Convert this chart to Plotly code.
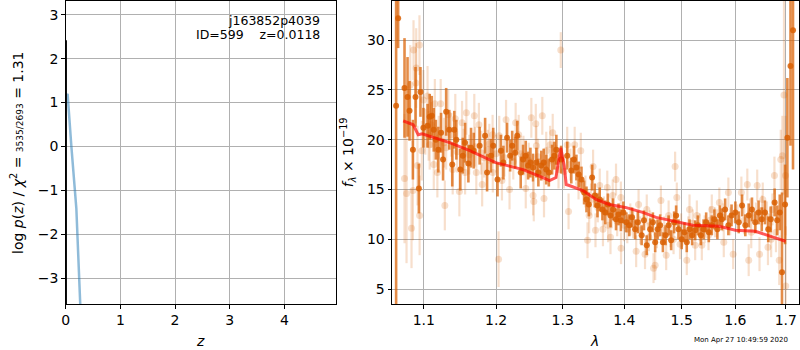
import plotly.graph_objects as go
import math

# ---------------- data ----------------
# left panel: log p(z) curves
pz_z = [0.0118, 0.0118]
pz_logp = [-3.7, 2.42]
chi_z = [0.02, 0.035, 0.104, 0.195, 0.270]
chi_logp = [1.15, 1.2, 0.0, -1.41, -3.7]

z_ticks = [0, 1, 2, 3, 4]
logp_ticks = [-3, -2, -1, 0, 1, 2, 3]

# right panel: spectrum (dark = binned, light = individual)
dark_wave = [1.0640, 1.0666, 1.0748, 1.0787, 1.0813, 1.0857, 1.0891, 1.0935, 1.0956, 1.0995,
             1.1050, 1.1078, 1.1106, 1.1133, 1.1161, 1.1194, 1.1231, 1.1258, 1.1300, 1.1342,
             1.1383, 1.1411, 1.1439, 1.1494, 1.1528, 1.1560, 1.1606, 1.1643, 1.1681, 1.1764,
             1.1842, 1.1870, 1.1925, 1.1958,
             1.2020, 1.2069, 1.2105, 1.2159, 1.2204, 1.2234, 1.2279, 1.2309, 1.2360, 1.2395,
             1.2435, 1.2470, 1.2505, 1.2545, 1.2595, 1.2625, 1.2670, 1.2706, 1.2745, 1.2785,
             1.2835, 1.2871, 1.2901, 1.2976,
             1.3071, 1.3135, 1.3177, 1.3216, 1.3253, 1.3297, 1.3339, 1.3377, 1.3415, 1.3468,
             1.3511, 1.3555, 1.3592, 1.3636, 1.3684, 1.3726, 1.3769, 1.3813, 1.3861, 1.3903,
             1.3942, 1.3984,
             1.4035, 1.4083, 1.4131, 1.4183, 1.4229, 1.4295, 1.4335, 1.4383, 1.4441, 1.4489,
             1.4529, 1.4572, 1.4617, 1.4665, 1.4713, 1.4766, 1.4811, 1.4864, 1.4900, 1.4942,
             1.5000, 1.5050, 1.5092, 1.5142, 1.5190, 1.5245, 1.5295, 1.5350, 1.5400, 1.5448,
             1.5497, 1.5553, 1.5602, 1.5658, 1.5706, 1.5742, 1.5805, 1.5866, 1.5927, 1.6000,
             1.6066, 1.6130, 1.6193, 1.6259, 1.6323, 1.6387, 1.6453, 1.6516, 1.6580, 1.6646,
             1.6696, 1.6774, 1.6826, 1.6878, 1.6923, 1.6986, 1.7033, 1.7097, 1.7149]
dark_flux = [23.4, 32.2, 25.2, 24.3, 22.9, 19.0, 24.3, 15.1, 24.8, 21.2,
             21.4, 22.3, 22.4, 21.0, 20.0, 19.0, 20.7, 18.0, 22.8, 21.0,
             17.5, 21.0, 20.0, 17.0, 18.4, 19.7, 17.6, 19.2, 18.9, 19.4,
             20.4, 16.7, 18.4, 19.4,
             16.0, 18.9, 17.7, 20.2, 18.4, 19.4, 18.7, 20.4, 16.7, 18.0,
             18.4, 17.4, 17.7, 17.2, 17.7, 16.7, 17.4, 17.7, 17.0, 16.7,
             18.0, 18.4, 19.0, 18.0,
             18.4, 16.9, 18.0, 17.2, 16.5, 16.0, 14.7, 14.0, 13.5, 16.2,
             14.4, 13.4, 14.0, 13.0, 12.7, 13.5, 12.4, 13.0, 12.0, 12.5,
             11.9, 12.7,
             11.7, 11.4, 12.2, 11.0, 11.7, 10.4, 11.9, 9.4, 11.0, 11.7,
             9.7, 11.0, 11.4, 9.7, 10.4, 11.4, 9.9, 11.7, 12.4, 11.0,
             10.0, 10.7, 9.7, 11.0, 10.4, 10.9, 11.4, 10.4, 11.0, 11.7,
             10.7, 11.4, 12.0, 11.0, 12.4, 12.0, 13.0, 11.4, 12.4, 12.7,
             11.7, 13.4, 11.4, 12.4, 13.0, 11.7, 12.7, 12.0, 12.7, 11.0,
             12.0, 13.7, 11.9, 12.7, 6.7, 13.5, 20.2, 27.4, 31.0]
dark_err = [25, 3, 5, 4, 3, 3, 3, 2.5, 2.5, 2,
            2.2, 2.3, 2.0, 2.2, 2.0, 2.3, 2.0, 2.1, 2.4, 2.0,
            2.2, 1.9, 2.0, 2.1, 1.8, 2.0, 1.9, 2.0, 1.8, 1.9,
            1.8, 1.9, 1.7, 1.8,
            1.7, 1.6, 1.7, 1.5, 1.6, 1.5, 1.6, 1.5, 1.6, 1.5,
            1.5, 1.4, 1.5, 1.4, 1.5, 1.4, 1.5, 1.4, 1.5, 1.4,
            1.5, 1.4, 1.5, 1.4,
            1.4, 1.3, 1.4, 1.3, 1.3, 1.3, 1.2, 1.3, 1.2, 1.3,
            1.2, 1.2, 1.2, 1.1, 1.2, 1.1, 1.2, 1.1, 1.1, 1.1,
            1.1, 1.1,
            1.0, 1.1, 1.0, 1.0, 1.1, 1.0, 1.0, 1.0, 1.1, 1.0,
            1.0, 1.0, 1.1, 1.0, 1.0, 1.0, 1.0, 1.1, 1.0, 1.0,
            1.0, 1.0, 1.0, 1.0, 1.0, 1.0, 1.0, 1.0, 1.0, 1.0,
            1.0, 1.0, 1.0, 1.0, 1.0, 1.1, 1.1, 1.0, 1.1, 1.1,
            1.1, 1.1, 1.1, 1.2, 1.2, 1.1, 1.2, 1.2, 1.2, 1.3,
            1.3, 1.4, 1.5, 1.8, 8.0, 4.0, 6.0, 8.0, 14.0]

light_wave = [1.0748, 1.0774, 1.0822, 1.0839, 1.0857, 1.0865, 1.0896, 1.0900, 1.0917, 1.0943, 1.0945, 1.0974,
              1.0995, 1.1050, 1.1064, 1.1078, 1.1133, 1.1147, 1.1181, 1.1226, 1.1272, 1.1282,
              1.1328, 1.1389, 1.1425, 1.1481, 1.1518, 1.1560, 1.1578, 1.1689, 1.1717, 1.1754,
              1.1786, 1.1800, 1.1903, 1.1949, 1.1952,
              1.2035, 1.2045, 1.2084, 1.2144, 1.2195, 1.2285, 1.2330, 1.2400, 1.2435, 1.2519,
              1.2545, 1.2556, 1.2586, 1.2595, 1.2685, 1.2711, 1.2745, 1.2805, 1.2845, 1.2935,
              1.2970,
              1.3071, 1.3092, 1.3189, 1.3286, 1.3394, 1.3420, 1.3484, 1.3523, 1.3592, 1.3645,
              1.3716, 1.3730, 1.3769, 1.3806, 1.3861, 1.3942, 1.3945, 1.3995,
              1.4101, 1.4201, 1.4242, 1.4353, 1.4383, 1.4441, 1.4501, 1.4529, 1.4630, 1.4723,
              1.4766, 1.4854, 1.4882, 1.4912, 1.4970,
              1.5092, 1.5142, 1.5245, 1.5276, 1.5368, 1.5492, 1.5553, 1.5614, 1.5695, 1.5779,
              1.5866, 1.5958,
              1.6116, 1.6232, 1.6259, 1.6309, 1.6426, 1.6472, 1.6536, 1.6640, 1.6704, 1.6770,
              1.6801, 1.6867, 1.6898, 1.6931, 1.6964, 1.6995, 1.7000]
light_flux = [16.1, 14.6, 25.5, 11.1, 14.9, 29.0, 25.7, 27.2, 17.4, 29.5, 12.4, 18.9,
              24.0, 24.4, 20.4, 19.5, 17.5, 23.6, 16.7, 23.6, 19.7, 13.4,
              22.5, 17.0, 22.1, 14.8, 21.7, 16.7, 22.7, 22.4, 16.7, 21.5,
              18.7, 15.5, 19.6, 20.5, 16.7,
              8.0, 20.4, 15.9, 22.0, 15.0, 21.7, 20.5, 18.4, 15.1, 22.2,
              14.4, 13.8, 21.6, 19.4, 22.4, 14.1, 18.9, 19.5, 20.7, 17.0,
              29.0,
              19.5, 12.8, 19.5, 18.9, 9.9, 12.4, 17.3, 10.9, 15.4, 11.0,
              15.2, 11.4, 10.2, 14.4, 16.0, 14.2, 9.1, 11.4,
              12.0, 8.8, 13.5, 8.5, 13.0, 11.4, 7.1, 7.4, 13.9, 8.4,
              12.4, 10.0, 17.3, 14.2, 9.5,
              7.9, 13.0, 9.4, 12.4, 9.4, 10.4, 13.0, 11.7, 13.7, 9.7,
              14.7, 8.5,
              14.7, 15.5, 7.9, 10.7, 15.4, 8.5, 14.0, 9.2, 10.0, 16.4,
              10.7, 7.9, 18.0, 18.4, 24.5, 16.4, 5.3]
light_err = [6.5, 7.0, 4.0, 4.0, 5.0, 3.0, 4.0, 4.0, 4.0, 3.0, 4.0, 3.0,
             3.0, 3.0, 2.5, 2.5, 2.5, 2.5, 2.5, 2.5, 2.5, 2.5,
             2.5, 2.5, 2.5, 2.5, 2.2, 2.2, 2.2, 2.2, 2.2, 2.2,
             2.2, 2.2, 2.0, 2.0, 2.0,
             2.8, 2.0, 2.0, 2.0, 2.0, 2.0, 2.0, 2.0, 2.0, 2.0,
             2.0, 2.0, 2.0, 2.0, 1.9, 1.9, 1.9, 1.9, 1.9, 1.9,
             1.8,
             1.8, 1.8, 1.8, 1.8, 1.8, 1.8, 1.7, 1.7, 1.7, 1.7,
             1.7, 1.7, 1.7, 1.6, 1.6, 1.6, 1.6, 1.6,
             1.6, 1.6, 1.5, 1.5, 1.5, 1.5, 1.5, 1.5, 1.5, 1.5,
             1.5, 1.5, 1.5, 1.5, 1.5,
             1.5, 1.5, 1.5, 1.5, 1.5, 1.5, 1.5, 1.5, 1.5, 1.5,
             1.5, 1.5,
             1.6, 1.6, 1.6, 1.6, 1.6, 1.7, 1.7, 1.8, 1.8, 1.9,
             2.0, 2.5, 3.0, 4.0, 10.0, 6.0, 6.0]

# dense light points hugging the trend
light_wave_b = [1.1020, 1.1100, 1.1200, 1.1300, 1.1370, 1.1450, 1.1540, 1.1620, 1.1700, 1.1830,
                1.1880, 1.2000, 1.2120, 1.2250, 1.2360, 1.2480, 1.2620, 1.2760, 1.2900, 1.3020,
                1.3120, 1.3250, 1.3360, 1.3450, 1.3560, 1.3660, 1.3790, 1.3880, 1.4050, 1.4150,
                1.4270, 1.4420, 1.4560, 1.4690, 1.4800, 1.4990, 1.5120, 1.5200, 1.5330, 1.5420,
                1.5520, 1.5650, 1.5760, 1.5900, 1.6040, 1.6170, 1.6290, 1.6400, 1.6520, 1.6620,
                1.6730]
light_flux_b = [20.8, 21.5, 20.2, 19.2, 20.5, 18.8, 19.0, 18.5, 19.3, 18.2,
                19.0, 18.6, 18.2, 17.8, 18.6, 17.9, 18.3, 17.6, 17.8, 16.8,
                17.5, 15.6, 14.8, 14.0, 13.2, 12.8, 12.6, 11.8, 11.0, 11.5,
                10.9, 10.2, 10.5, 10.9, 10.6, 11.2, 10.9, 11.6, 11.2, 11.0,
                11.9, 11.6, 12.2, 11.8, 12.1, 11.9, 12.6, 12.2, 12.9, 12.3,
                13.0]
light_err_b = [2.3, 2.3, 2.2, 2.2, 2.2, 2.1, 2.1, 2.0, 2.0, 2.0,
               2.0, 1.9, 1.9, 1.8, 1.8, 1.8, 1.8, 1.7, 1.7, 1.7,
               1.6, 1.6, 1.6, 1.6, 1.5, 1.5, 1.5, 1.5, 1.4, 1.4,
               1.4, 1.4, 1.4, 1.4, 1.4, 1.4, 1.4, 1.4, 1.4, 1.4,
               1.4, 1.4, 1.4, 1.4, 1.4, 1.4, 1.5, 1.5, 1.5, 1.5,
               1.6]

model_wave = [1.0731, 1.0861, 1.0926, 1.0978, 1.1347, 1.1625, 1.1994, 1.2395, 1.2695, 1.2795,
              1.2895, 1.2970, 1.3023, 1.3055, 1.3103, 1.3318, 1.3532, 1.3748, 1.4018, 1.4312,
              1.4547, 1.4899, 1.5203, 1.5694, 1.6000, 1.6387, 1.6646, 1.6996]
model_flux = [21.9, 21.5, 20.5, 20.6, 19.7, 18.9, 17.7, 17.0, 16.2, 15.9,
              16.2, 19.2, 17.4, 15.5, 15.4, 14.9, 14.0, 13.5, 13.2, 12.7,
              12.2, 11.8, 11.4, 11.3, 10.9, 10.8, 10.4, 9.8]

wave_ticks = [1.1, 1.2, 1.3, 1.4, 1.5, 1.6, 1.7]
flux_ticks = [5, 10, 15, 20, 25, 30]

# ---------------- figure ----------------
FONT = "DejaVu Sans"
ORANGE_DARK = "rgba(217,95,2,0.85)"
ORANGE_DARK_BAR = "rgba(217,95,2,0.72)"
ORANGE_LIGHT = "rgba(217,95,2,0.2)"

fig = go.Figure()

fig.add_trace(go.Scatter(x=chi_z, y=chi_logp, mode="lines",
                         line=dict(color="rgba(31,119,180,0.5)", width=2.5),
                         xaxis="x", yaxis="y", showlegend=False))
fig.add_trace(go.Scatter(x=pz_z, y=pz_logp, mode="lines",
                         line=dict(color="black", width=1.2),
                         xaxis="x", yaxis="y", showlegend=False))

fig.add_trace(go.Scatter(x=light_wave + light_wave_b, y=light_flux + light_flux_b,
                         mode="markers",
                         marker=dict(color=ORANGE_LIGHT, size=7, line=dict(width=0)),
                         error_y=dict(type="data", array=light_err + light_err_b,
                                      color=ORANGE_LIGHT, thickness=2.2, width=0),
                         xaxis="x2", yaxis="y2", showlegend=False))
fig.add_trace(go.Scatter(x=dark_wave, y=dark_flux, mode="markers",
                         marker=dict(color=ORANGE_DARK, size=6, line=dict(width=0)),
                         error_y=dict(type="data", array=dark_err,
                                      color=ORANGE_DARK_BAR, thickness=2.6, width=0),
                         xaxis="x2", yaxis="y2", showlegend=False))
fig.add_trace(go.Scatter(x=model_wave, y=model_flux, mode="lines",
                         line=dict(color="rgba(255,0,0,0.65)", width=3),
                         xaxis="x2", yaxis="y2", showlegend=False))

ax_common = dict(showline=True, linecolor="black", linewidth=1, mirror=True,
                 ticks="outside", ticklen=3.5, tickcolor="black", tickwidth=1,
                 showgrid=True, gridcolor="#b0b0b0", gridwidth=1, zeroline=False,
                 tickfont=dict(family=FONT, size=14, color="black"))

ydom = [1 - 304 / 350, 1 - 1 / 350]
fig.update_layout(
    width=800, height=350, autosize=False,
    margin=dict(l=0, r=0, t=0, b=0),
    paper_bgcolor="white", plot_bgcolor="white",
    font=dict(family=FONT, size=14, color="black"),
    xaxis=dict(domain=[62 / 800, 334 / 800], range=[0, 4.95], tickvals=z_ticks,
               anchor="y", **ax_common),
    yaxis=dict(domain=ydom, range=[-3.58, 3.31], tickvals=logp_ticks,
               anchor="x", **ax_common),
    xaxis2=dict(domain=[390 / 800, 799 / 800], type="log",
                range=[math.log10(1.0588), math.log10(1.7273)],
                tickvals=wave_ticks, ticktext=[f"{v:.1f}" for v in wave_ticks],
                anchor="y2", **ax_common),
    yaxis2=dict(domain=ydom, range=[3.5, 33.93], tickvals=flux_ticks,
                anchor="x2", **ax_common),
)

ann = [
    dict(x=320, y=20, text="j163852p4039", xanchor="right", yanchor="middle",
         font=dict(size=12.5)),
    dict(x=320, y=34.5, text="ID=599&nbsp;&nbsp;&nbsp;&nbsp;z=0.0118", xanchor="right",
         yanchor="middle", font=dict(size=12.5)),
    dict(x=197, y=341, text="<i>z</i>", xanchor="center", yanchor="middle",
         font=dict(size=14)),
    dict(x=593, y=341, text="<i>λ</i>", xanchor="center", yanchor="middle",
         font=dict(size=14)),
    dict(x=13, y=153, textangle=-90, xanchor="center", yanchor="middle",
         text="log <i>p</i>(<i>z</i>) / <i>χ</i><sup>2</sup> = "
              "<span style='font-size:9px'>3535/2693</span> = 1.31",
         font=dict(size=14)),
    dict(x=346, y=152, textangle=-90, xanchor="center", yanchor="middle",
         text="<i>f</i><sub><i>λ</i></sub> × 10<sup>−19</sup>",
         font=dict(size=14)),
    dict(x=741, y=339.5, text="Mon Apr 27 10:49:59 2020", xanchor="center",
         yanchor="middle", font=dict(size=7)),
]
for a in ann:
    a.update(xref="paper", yref="paper", showarrow=False)
    a["x"] = a["x"] / 800
    a["y"] = 1 - a["y"] / 350
fig.update_layout(annotations=ann)

fig.write_html("out.html", config={"displayModeBar": False},
               post_script="document.body.style.margin='0';document.body.style.padding='0';")
